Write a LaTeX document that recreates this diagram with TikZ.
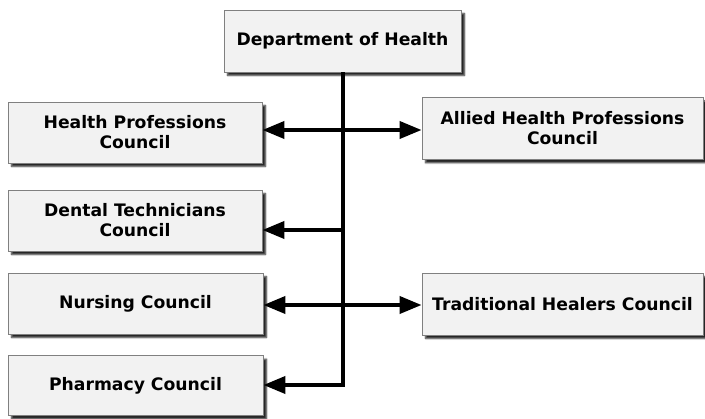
\documentclass[tikz,border=0pt]{standalone}
\usepackage{fontspec}
\setmainfont{DejaVu Sans}
\usetikzlibrary{arrows.meta,shadows.blur}
\begin{document}
\begin{tikzpicture}[x=1pt,y=-1pt,
  box/.style={draw=black!50,line width=0.8pt,fill=black!5,rectangle,align=center,
    font=\bfseries\fontsize{17.2}{20}\selectfont,inner sep=0pt,
    blur shadow={shadow xshift=3.5pt,shadow yshift=-3.5pt,shadow blur steps=5,shadow opacity=85,shadow blur radius=1.5pt}},
  link/.style={line width=3.8pt,-{Triangle[length=22pt,width=17pt]},shorten >=0pt}]
\useasboundingbox (0,0) rectangle (705,419);
\node[box,minimum width=237pt,minimum height=62pt] (dept) at (342.5,41) {Department of Health};
\node[box,minimum width=254pt,minimum height=61pt] (hpc) at (135,132.5) {Health Professions\\Council};
\node[box,minimum width=281pt,minimum height=62pt] (ahpc) at (562.5,128.5) {Allied Health Professions\\Council};
\node[box,minimum width=254pt,minimum height=61pt] (dtc) at (135,220.5) {Dental Technicians\\Council};
\node[box,minimum width=255pt,minimum height=61pt] (nc) at (135.5,303.5) {Nursing Council};
\node[box,minimum width=281pt,minimum height=62pt] (thc) at (562.5,304) {Traditional Healers Council};
\node[box,minimum width=255pt,minimum height=60pt] (pc) at (135.5,385.5) {Pharmacy Council};
\coordinate (j1) at (343,130);
\coordinate (j2) at (343,230);
\coordinate (j3) at (343,305);
\coordinate (j4) at (343,385);
\draw[line width=3.8pt] (dept.south -| j1) -- (j4);
\draw[link] (j1) -- (hpc.east |- j1);
\draw[link] (j1) -- (ahpc.west |- j1);
\draw[link] (j2) -- (dtc.east |- j2);
\draw[link] (j3) -- (nc.east |- j3);
\draw[link] (j3) -- (thc.west |- j3);
\draw[link] ([xshift=1.9pt]j4) -- (pc.east |- j4);
\end{tikzpicture}
\end{document}
